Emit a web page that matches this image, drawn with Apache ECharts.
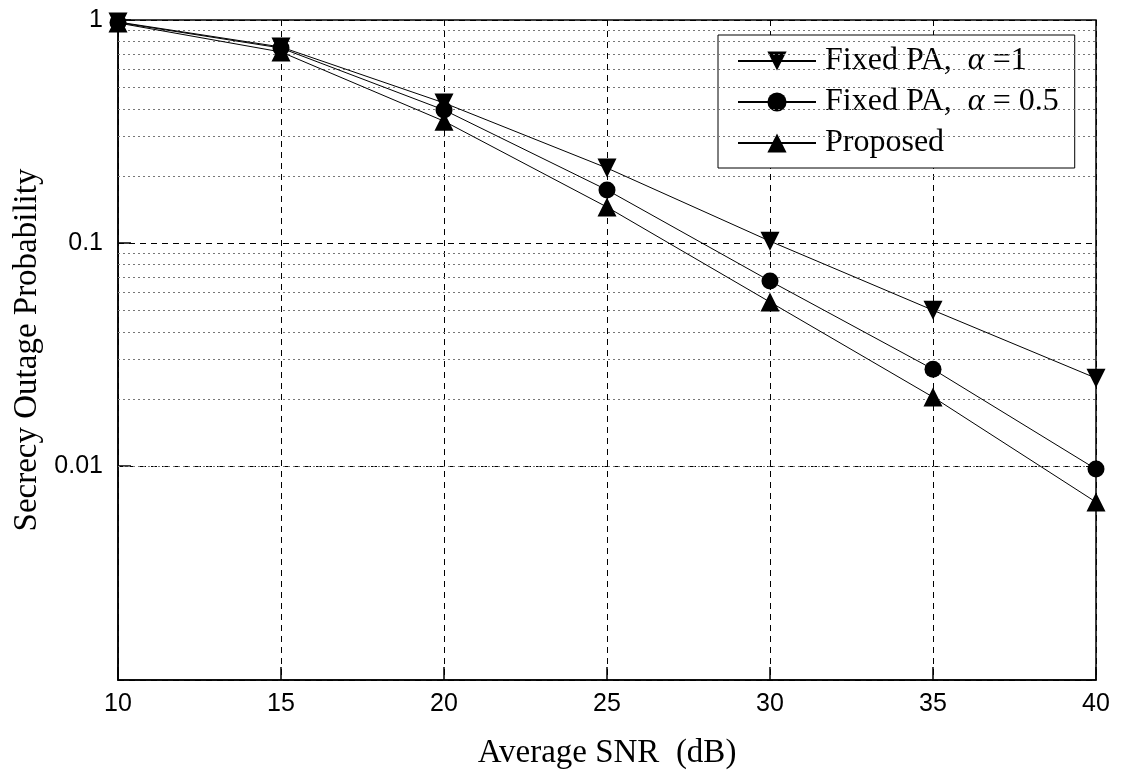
<!DOCTYPE html>
<html>
<head>
<meta charset="utf-8">
<script src="https://cdn.jsdelivr.net/npm/echarts@6/dist/echarts.min.js"></script>
<style>
  html, body { margin: 0; padding: 0; background: #fff; }
  #chart { width: 1122px; height: 772px; }
</style>
</head>
<body>
<div id="chart"></div>
<script>
// average SNR (dB)
const snr = [10, 15, 20, 25, 30, 35, 40]
// secrecy outage probability
const fixedAlpha1 = [0.98, 0.757, 0.425, 0.217, 0.102, 0.050, 0.0248]
const fixedAlpha05 = [0.975, 0.749, 0.395, 0.173, 0.0676, 0.0272, 0.0097]
const proposed = [0.97, 0.719, 0.352, 0.145, 0.0544, 0.0204, 0.0069]
const yTickLabels = ['1', '0.1', '0.01']

// dotted minor grid, 2..9 times each decade
const minorGrid = []
for (const d of [0.001, 0.01, 0.1]) {
  for (let k = 2; k <= 9; k++) minorGrid.push(+(k * d).toPrecision(3))
}

const chart = echarts.init(document.getElementById('chart'))
const serif = '"Liberation Serif", "Times New Roman", serif'
const sans = '"Liberation Sans", Arial, sans-serif'

const lineSeries = (name, data, symbol, rotate, size) => ({
  name,
  type: 'line',
  data: snr.map((x, i) => [x, data[i]]),
  symbol,
  symbolRotate: rotate,
  symbolSize: size,
  showAllSymbol: true,
  clip: true,
  lineStyle: { color: '#000', width: 1 },
  itemStyle: { color: '#000', borderWidth: 0 },
  emphasis: { disabled: true },
  z: 5
})

chart.setOption({
  animation: false,
  backgroundColor: '#fff',
  grid: {
    left: 118, top: 20, right: 26, bottom: 92,
    containLabel: false,
    outerBoundsMode: 'none',
    show: true, borderColor: '#000', borderWidth: 1.5, backgroundColor: 'transparent'
  },
  legend: {
    left: 718, top: 35,
    orient: 'vertical',
    backgroundColor: '#fff',
    borderColor: '#000',
    borderWidth: 1,
    padding: [10, 16, 9, 19],
    itemGap: 9,
    itemWidth: 78,
    itemHeight: 24,
    data: ['a1', 'a05', 'prop'],
    formatter: (name) => ({
      a1: 'Fixed PA,  {i|α} =1',
      a05: 'Fixed PA,  {i|α} = 0.5',
      prop: 'Proposed'
    })[name],
    textStyle: {
      fontFamily: serif, fontSize: 32, lineHeight: 32, color: '#000', padding: [0, 0, 0, 4],
      rich: { i: { fontFamily: serif, fontStyle: 'italic', fontSize: 32, lineHeight: 32, color: '#000' } }
    }
  },
  xAxis: {
    type: 'value',
    min: 10, max: 40, interval: 5,
    name: 'Average SNR  (dB)',
    nameLocation: 'middle',
    nameGap: 57,
    nameTextStyle: { fontFamily: serif, fontSize: 33, color: '#000' },
    axisLine: { lineStyle: { color: '#000', width: 1.5 } },
    axisTick: { inside: true, length: 13, lineStyle: { color: '#000', width: 1.5 } },
    axisLabel: { fontFamily: sans, fontSize: 25, color: '#000', margin: 12 },
    splitLine: { show: true, lineStyle: { color: '#000', type: [6, 5], width: 1 } }
  },
  yAxis: {
    type: 'log',
    logBase: 10,
    min: 0.0011, max: 1,
    name: 'Secrecy Outage Probability',
    nameLocation: 'middle',
    nameGap: 72,
    nameTextStyle: { fontFamily: serif, fontSize: 33, color: '#000' },
    axisLine: { lineStyle: { color: '#000', width: 1.5 } },
    axisTick: { inside: true, length: 13, lineStyle: { color: '#000', width: 1.5 } },
    axisLabel: {
      fontFamily: sans, fontSize: 25, color: '#000', margin: 15,
      showMinLabel: false,
      formatter: (v) => {
        const s = yTickLabels.find((t) => Math.abs(parseFloat(t) - v) < 1e-9)
        return s || ''
      }
    },
    splitLine: { show: true, lineStyle: { color: '#000', type: [6, 5], width: 1 } }
  },
  series: [
    {
      name: 'minor',
      type: 'line',
      data: [],
      silent: true,
      markLine: {
        silent: true,
        symbol: 'none',
        animation: false,
        label: { show: false },
        lineStyle: { color: '#777', type: [2, 3], width: 1 },
        data: minorGrid.map((v) => ({ yAxis: v }))
      },
      z: 1
    },
    lineSeries('a1', fixedAlpha1, 'triangle', 180, 19),
    lineSeries('a05', fixedAlpha05, 'circle', 0, 17),
    lineSeries('prop', proposed, 'triangle', 0, 19)
  ]
})
</script>
</body>
</html>
